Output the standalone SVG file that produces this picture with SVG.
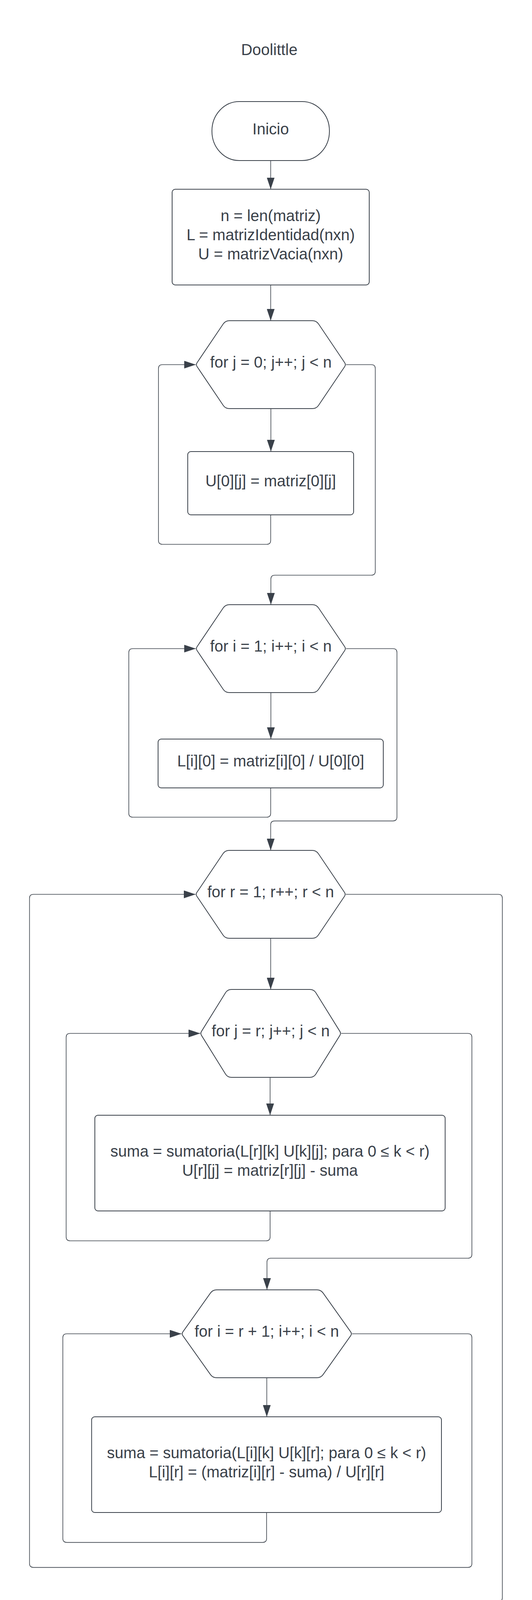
<svg xmlns="http://www.w3.org/2000/svg" width="1363" height="6551" viewBox="0 0 1363 6551">
<style>
.s{fill:#ffffff;stroke:#3a414a;stroke-width:2}
.t{font-family:"Liberation Sans",Arial,sans-serif;font-size:40px;fill:#3a414a;text-anchor:middle}
.c{fill:none;stroke:#3a414a;stroke-width:1.6}
</style>
<defs>
<marker id="ah" markerUnits="userSpaceOnUse" markerWidth="30" markerHeight="20" refX="30" refY="10" orient="auto">
<path d="M0,0 L30,10 L0,20 z" fill="#3a414a"/>
</marker>
</defs>
<rect width="1363" height="6551" fill="#ffffff"/>
<text class="t" x="690" y="140.6">Doolittle</text>

<g id="connectors">
<path class="c" marker-end="url(#ah)" d="M693.5 411 V484.5"/>
<path class="c" marker-end="url(#ah)" d="M693.5 729.5 V821"/>
<path class="c" marker-end="url(#ah)" d="M694 1046 V1156"/>
<path class="c" marker-end="url(#ah)" d="M693.5 1318 V1383.5 Q693.5 1393.5 683.5 1393.5 H416 Q406 1393.5 406 1383.5 V943.5 Q406 933.5 416 933.5 H501.5"/>
<path class="c" marker-end="url(#ah)" d="M886.5 933.5 H951.5 Q961.5 933.5 961.5 943.5 V1462.5 Q961.5 1472.5 951.5 1472.5 H704 Q694 1472.5 694 1482.5 V1548"/>
<path class="c" marker-end="url(#ah)" d="M694 1773 V1892"/>
<path class="c" marker-end="url(#ah)" d="M693.5 2017 V2082 Q693.5 2092 683.5 2092 H340 Q330 2092 330 2082 V1670.5 Q330 1660.5 340 1660.5 H501.5"/>
<path class="c" marker-end="url(#ah)" d="M886.5 1660.5 H1007 Q1017 1660.5 1017 1670.5 V2091.6 Q1017 2101.6 1007 2101.6 H703.5 Q693.5 2101.6 693.5 2111.6 V2177"/>
<path class="c" marker-end="url(#ah)" d="M693.5 2402 V2533"/>
<path class="c" marker-end="url(#ah)" d="M692 2758 V2855"/>
<path class="c" marker-end="url(#ah)" d="M692 3100 V3166.5 Q692 3176.5 682 3176.5 H179.5 Q169.5 3176.5 169.5 3166.5 V2655.5 Q169.5 2645.5 179.5 2645.5 H513"/>
<path class="c" marker-end="url(#ah)" d="M874 2645.5 H1199 Q1209 2645.5 1209 2655.5 V3211 Q1209 3221 1199 3221 H694 Q684 3221 684 3231 V3302"/>
<path class="c" marker-end="url(#ah)" d="M683.5 3527 V3627"/>
<path class="c" marker-end="url(#ah)" d="M683 3872 V3938.6 Q683 3948.6 673 3948.6 H171 Q161 3948.6 161 3938.6 V3424.5 Q161 3414.5 171 3414.5 H465"/>
<path class="c" marker-end="url(#ah)" d="M902 3414.5 H1199 Q1209 3414.5 1209 3424.5 V4002.6 Q1209 4012.6 1199 4012.6 H85.6 Q75.6 4012.6 75.6 4002.6 V2299.5 Q75.6 2289.5 85.6 2289.5 H501"/>
<path class="c" marker-end="url(#ah)" d="M886 2289.5 H1277 Q1287 2289.5 1287 2299.5 V4090 Q1287 4100 1277 4100 H688 Q678 4100 678 4110 V4174"/>
<path class="c" marker-end="url(#ah)" d="M677.5 4331 V4442"/>
<path class="c" marker-end="url(#ah)" d="M677.5 4654 V4721.5"/>
<path class="c" marker-end="url(#ah)" d="M677.5 4910.5 V4977 Q677.5 4987 667.5 4987 H164.7 Q154.7 4987 154.7 4977 V4558 Q154.7 4548 164.7 4548 H444"/>
<path class="c" marker-end="url(#ah)" d="M911 4548 H1165 Q1175 4548 1175 4558 V5022 Q1175 5032 1165 5032 H670.5 Q660.5 5032 660.5 5042 V5095"/>
<path class="c" marker-end="url(#ah)" d="M660 5251 V5314"/>
<path class="c" marker-end="url(#ah)" d="M660 5526 V5644"/>
<path class="c" marker-end="url(#ah)" d="M660.5 5833 V5898 Q660.5 5908 650.5 5908 H115 Q105 5908 105 5898 V5430 Q105 5420 115 5420 H422.5"/>
<path class="c" marker-end="url(#ah)" d="M897.5 5420 H1199 Q1209 5420 1209 5430 V5914.5 Q1209 5924.5 1199 5924.5 H670.5 Q660.5 5924.5 660.5 5934.5 V6030"/>
<path class="c" marker-end="url(#ah)" d="M660.5 6180 V6323.5"/>
</g>

<g id="inicio">
<rect class="s" x="543" y="260" width="301" height="151" rx="70" ry="75"/>
<text class="t" x="693.5" y="344.3">Inicio</text>
</g>

<g id="init">
<rect class="s" x="441" y="484.5" width="505" height="245" rx="8"/>
<text class="t" x="693.5" y="565.7">n = len(matriz)</text>
<text class="t" x="693.5" y="615">L = matrizIdentidad(nxn)</text>
<text class="t" x="693.5" y="664.3">U = matrizVacia(nxn)</text>
</g>

<g id="for-j0">
<path class="s" d="M587.5 821 h213 q10 0 15.6 8.3 l67 99.2 q3.4 5 0 10 l-67 99.2 q-5.6 8.3 -15.6 8.3 h-213 q-10 0 -15.6 -8.3 l-67 -99.2 q-3.4 -5 0 -10 l67 -99.2 q5.6 -8.3 15.6 -8.3 z"/>
<text class="t" x="694" y="941">for j = 0; j++; j &lt; n</text>
</g>

<g id="u0">
<rect class="s" x="481" y="1156" width="425" height="162" rx="8"/>
<text class="t" x="693.5" y="1245">U[0][j] = matriz[0][j]</text>
</g>

<g id="for-i1">
<path class="s" d="M587.5 1548 h213 q10 0 15.6 8.3 l67 99.2 q3.4 5 0 10 l-67 99.2 q-5.6 8.3 -15.6 8.3 h-213 q-10 0 -15.6 -8.3 l-67 -99.2 q-3.4 -5 0 -10 l67 -99.2 q5.6 -8.3 15.6 -8.3 z"/>
<text class="t" x="694" y="1668">for i = 1; i++; i &lt; n</text>
</g>

<g id="l0">
<rect class="s" x="405" y="1892" width="577" height="125" rx="8"/>
<text class="t" x="693.5" y="1962">L[i][0] = matriz[i][0] / U[0][0]</text>
</g>

<g id="for-r1">
<path class="s" d="M587 2177 h213 q10 0 15.6 8.3 l67 99.2 q3.4 5 0 10 l-67 99.2 q-5.6 8.3 -15.6 8.3 h-213 q-10 0 -15.6 -8.3 l-67 -99.2 q-3.4 -5 0 -10 l67 -99.2 q5.6 -8.3 15.6 -8.3 z"/>
<text class="t" x="693.5" y="2297">for r = 1; r++; r &lt; n</text>
</g>

<g id="for-jr">
<path class="s" d="M593 2533 h201 q10 0 15.3 8.5 l61.5 98.9 q3.2 5.1 0 10.2 l-61.5 98.9 q-5.3 8.5 -15.3 8.5 h-201 q-10 0 -15.3 -8.5 l-61.5 -98.9 q-3.2 -5.1 0 -10.2 l61.5 -98.9 q5.3 -8.5 15.3 -8.5 z"/>
<text class="t" x="693.5" y="2653">for j = r; j++; j &lt; n</text>
</g>

<g id="urj">
<rect class="s" x="243" y="2855" width="897.5" height="245" rx="8"/>
<text class="t" x="691.7" y="2961">suma = sumatoria(L[r][k] U[k][j]; para 0 ≤ k &lt; r)</text>
<text class="t" x="691.7" y="3010.3">U[r][j] = matriz[r][j] - suma</text>
</g>

<g id="for-ir1">
<path class="s" d="M555 3302 h257 q10 0 15.8 8.2 l70.7 99.4 q3.5 4.9 0 9.8 l-70.7 99.4 q-5.8 8.2 -15.8 8.2 h-257 q-10 0 -15.8 -8.2 l-70.7 -99.4 q-3.5 -4.9 0 -9.8 l70.7 -99.4 q5.8 -8.2 15.8 -8.2 z"/>
<text class="t" x="683.5" y="3422">for i = r + 1; i++; i &lt; n</text>
</g>

<g id="lir">
<rect class="s" x="234.7" y="3627" width="896.3" height="245" rx="8"/>
<text class="t" x="683" y="3733">suma = sumatoria(L[i][k] U[k][r]; para 0 ≤ k &lt; r)</text>
<text class="t" x="683" y="3782.3">L[i][r] = (matriz[i][r] - suma) / U[r][r]</text>
</g>

<g id="d-init">
<rect class="s" x="449" y="4174" width="457" height="157" rx="8"/>
<text class="t" x="677.5" y="4259">d = vectorVacio(n)</text>
</g>

<g id="for-r0">
<path class="s" d="M550 4442 h255 q10 0 16.7 7.4 l85.3 94.2 q4 4.4 0 8.8 l-85.3 94.2 q-6.7 7.4 -16.7 7.4 h-255 q-10 0 -16.7 -7.4 l-85.3 -94.2 q-4 -4.4 0 -8.8 l85.3 -94.2 q6.7 -7.4 16.7 -7.4 z"/>
<text class="t" x="677.5" y="4555.5">for r = 0; r++; r &lt; n</text>
</g>

<g id="dr">
<rect class="s" x="228.6" y="4721.5" width="898" height="189" rx="8"/>
<text class="t" x="677.5" y="4800">suma = sumatoria(L[r][k] d[k]; para 0 ≤ k &lt; r)</text>
<text class="t" x="677.5" y="4849">d[r] = vector[r] - suma</text>
</g>

<g id="x-init">
<rect class="s" x="432" y="5095" width="455.5" height="156" rx="8"/>
<text class="t" x="660" y="5179">x = vectorVacio(n)</text>
</g>

<g id="for-rn">
<path class="s" d="M528.5 5314 h263 q10 0 16.7 7.4 l85.3 94.2 q4 4.4 0 8.8 l-85.3 94.2 q-6.7 7.4 -16.7 7.4 h-263 q-10 0 -16.7 -7.4 l-85.3 -94.2 q-4 -4.4 0 -8.8 l85.3 -94.2 q6.7 -7.4 16.7 -7.4 z"/>
<text class="t" x="660" y="5427">for r = n - 1; r--; r &gt; -1</text>
</g>

<g id="xr">
<rect class="s" x="180" y="5644" width="960.5" height="189" rx="8"/>
<text class="t" x="660.3" y="5722.5">suma = sumatoria(U[r][k] x[k]; para r + 1 ≤ k &lt; n)</text>
<text class="t" x="660.3" y="5771.5">x[r] = (d[r] - suma) / U[r][r]</text>
</g>

<g id="mostrar">
<path class="s" d="M480.7 6030 H840 Q850 6030 850 6040 V6193 Q790 6166 723 6165.3 Q700 6166 660.5 6180 Q630 6191 600 6193 Q540 6196 470.7 6166 V6040 Q470.7 6030 480.7 6030 Z"/>
<text class="t" x="660.5" y="6109.3">Mostrar resultados</text>
</g>

<g id="fin">
<rect class="s" x="510" y="6323.5" width="300" height="151" rx="70" ry="75"/>
<text class="t" x="660" y="6408.3">Fin</text>
</g>
</svg>
